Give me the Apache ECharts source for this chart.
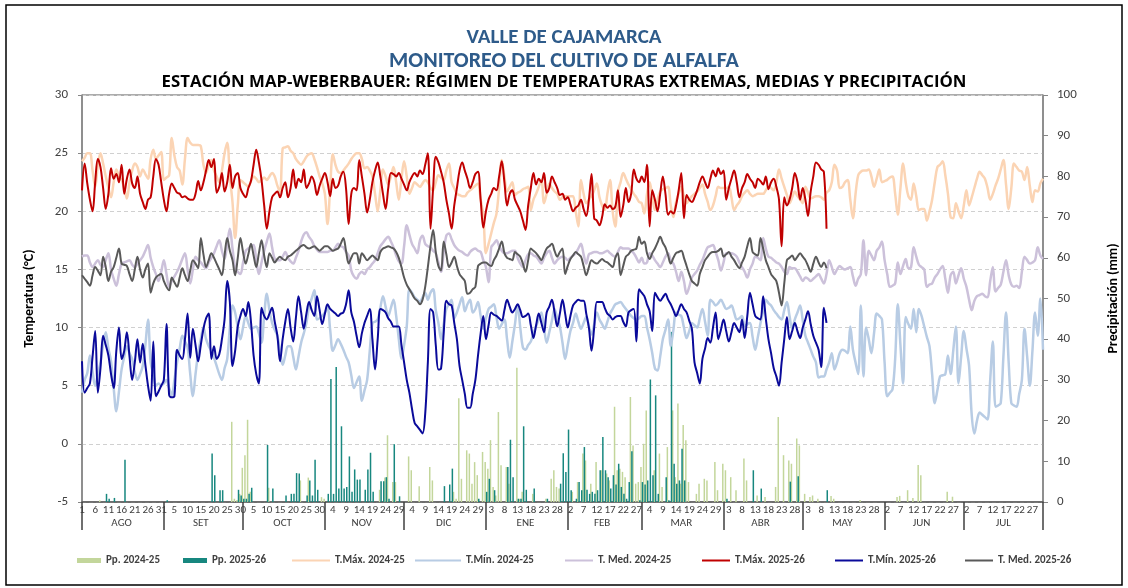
<!DOCTYPE html>
<html>
<head>
<meta charset="utf-8">
<title>Valle de Cajamarca - Alfalfa</title>
<script src="https://cdn.jsdelivr.net/npm/echarts@6/dist/echarts.min.js"></script>
<style>
  html, body { margin: 0; padding: 0; background: #fff; }
  #chart { width: 1128px; height: 588px; }
</style>
</head>
<body>
<div id="chart"></div>
<script>
// campaña agosto -> julio, un valor por día
const monthNames = ['AGO', 'SET', 'OCT', 'NOV', 'DIC', 'ENE', 'FEB', 'MAR', 'ABR', 'MAY', 'JUN', 'JUL']
const monthDays = [31, 30, 31, 30, 31, 31, 28, 31, 30, 31, 30, 31]

// T.Máx. 2024-25 (°C)
const tmax24 = [
  24.3,24.6,25.0,25.0,23.5,22.1,24.0,25.0,24.1,23.0,22.0,21.2,22.5,23.6,23.0,22.7,22.0,21.1,22.5,23.5,
  24.1,23.8,23.0,23.6,23.2,22.8,24.5,25.3,24.5,24.8,25.1,22.7,22.9,23.1,26.3,24.8,23.8,23.5,22.3,24.5,
  26.3,25.9,25.7,25.7,25.7,25.6,24.0,23.3,24.0,24.4,23.5,23.0,22.5,23.5,25.0,25.9,23.0,20.8,17.7,20.5,
  22.7,22.5,22.3,22.1,22.6,23.0,22.8,22.5,22.7,22.9,22.7,23.0,23.3,23.0,22.2,21.7,25.4,25.5,25.6,25.2,
  25.0,24.5,24.2,24.0,24.3,24.7,24.9,25.0,24.5,23.8,23.0,22.4,21.5,18.9,22.0,24.9,24.0,23.4,23.3,23.5,
  23.8,24.1,24.5,24.8,25.0,25.0,24.5,23.7,23.8,23.5,23.0,21.5,20.0,21.8,23.6,23.0,22.3,23.0,23.8,22.5,
  21.0,22.8,24.3,23.0,21.5,22.0,22.5,22.3,22.1,22.4,22.7,22.5,22.0,21.8,22.5,23.1,22.9,22.7,23.5,24.1,
  22.5,22.0,21.5,21.4,21.3,21.3,21.6,21.8,22.0,22.2,22.4,21.0,19.7,16.4,17.2,18.1,19.0,19.8,22.0,24.4,
  23.0,21.7,22.1,22.5,21.4,21.6,21.7,21.9,22.0,22.1,20.1,21.0,21.5,22.1,22.7,20.7,21.5,22.4,22.0,21.7,
  21.5,21.0,21.2,21.3,21.3,21.3,21.3,20.0,18.7,22.7,21.5,20.7,21.0,21.3,21.8,22.4,21.2,20.5,20.1,21.5,
  22.7,20.0,18.7,21.7,22.5,23.3,22.8,22.3,21.9,21.5,21.2,20.8,20.7,19.8,21.5,22.5,21.3,20.1,21.0,21.7,
  21.9,22.0,22.1,20.5,19.5,20.8,21.5,22.1,21.3,20.7,21.0,21.3,21.5,21.7,22.0,22.3,21.5,20.8,20.1,20.5,
  21.3,22.1,22.0,22.0,22.0,22.1,21.2,20.1,20.5,20.8,21.3,21.6,21.8,21.5,21.3,21.4,21.5,21.5,21.5,21.8,
  22.1,22.0,21.8,22.5,23.6,22.8,22.1,21.4,20.7,21.2,21.7,21.3,21.0,20.7,22.1,21.6,21.1,21.2,21.3,21.3,
  21.2,21.0,21.6,21.8,22.5,24.0,23.5,22.0,22.1,22.5,22.7,21.0,19.4,21.5,23.1,23.4,23.5,23.5,23.6,23.0,
  22.1,22.8,23.6,22.5,22.6,22.7,22.9,23.0,21.5,19.7,22.0,24.1,22.5,21.3,21.0,22.4,21.3,20.1,20.2,20.2,
  19.2,20.0,21.0,22.5,23.8,24.0,24.3,23.1,21.5,19.5,19.4,20.7,20.0,19.4,20.5,21.8,20.5,21.2,22.0,22.8,
  23.4,23.1,22.8,22.0,21.0,21.5,22.2,22.8,23.6,24.4,22.3,20.2,22.0,24.1,23.8,23.5,23.4,22.7,23.8,22.2,
  20.8,21.8,21.7,22.4,22.8
]

// T.Mín. 2024-25 (°C)
const tmin24 = [
  4.4,5.5,6.1,7.6,6.2,5.0,6.0,7.0,8.5,9.6,8.2,7.1,4.8,2.8,4.5,6.4,7.5,8.4,7.8,7.3,
  6.2,5.5,6.0,6.7,8.5,10.7,7.0,6.0,5.0,5.2,5.0,5.2,5.5,4.8,4.2,5.5,7.0,8.2,9.3,8.8,
  8.3,6.0,4.1,6.0,7.8,9.0,10.0,9.0,8.4,8.0,7.4,6.7,6.0,5.5,6.5,7.3,10.0,11.9,11.3,10.0,
  9.0,10.0,11.0,10.4,9.9,10.0,10.1,9.5,8.7,11.0,12.9,11.5,10.4,9.8,9.3,8.0,6.8,7.6,8.4,8.4,
  7.5,6.4,7.5,8.7,9.5,10.4,11.8,12.5,13.2,10.7,10.8,11.0,11.3,11.7,9.8,8.0,8.5,9.0,8.6,8.1,
  7.5,7.0,5.9,4.8,5.3,5.8,3.7,4.6,5.5,8.0,10.4,10.5,10.7,11.7,12.7,11.8,11.0,11.7,12.4,11.0,
  9.0,7.3,8.5,10.1,13.3,13.0,12.6,12.4,12.2,12.6,13.0,12.4,13.0,13.3,11.5,10.4,9.0,10.3,11.6,12.0,
  12.4,10.8,11.3,12.0,12.6,11.4,12.0,12.4,11.3,11.6,12.2,11.0,9.9,10.8,11.6,11.8,12.0,10.9,9.9,10.3,
  10.7,9.0,7.4,8.8,10.3,11.9,10.0,8.3,8.1,8.5,8.8,9.5,10.1,10.7,11.3,10.0,8.7,9.6,10.6,11.6,
  10.8,10.1,8.7,7.3,8.5,9.7,10.4,11.2,10.5,9.9,10.4,10.9,10.1,9.4,10.3,11.3,10.7,10.3,9.9,10.5,
  11.2,11.6,12.0,12.1,12.2,11.9,11.6,11.3,11.0,10.8,10.7,10.8,11.0,11.0,10.0,9.0,7.8,6.5,6.3,7.5,
  9.0,9.8,10.7,8.4,9.8,11.3,11.1,11.0,10.0,9.1,9.7,10.4,10.2,10.0,10.8,11.6,10.5,9.3,12.4,12.2,
  11.9,12.1,12.4,12.0,11.6,11.7,11.9,11.3,10.7,10.8,11.0,10.1,10.3,10.4,9.2,8.1,9.2,10.4,11.4,12.4,
  12.1,11.9,11.5,11.2,10.9,10.7,11.5,12.2,11.0,9.9,10.7,11.3,11.9,10.6,9.3,8.7,8.1,7.5,7.0,5.7,
  5.8,5.8,6.4,7.0,7.8,6.4,7.0,7.8,8.1,8.0,7.8,10.1,8.1,7.0,6.0,11.9,5.8,10.0,9.0,7.8,
  9.5,11.2,11.0,10.7,7.0,4.1,4.4,4.7,7.3,12.0,8.5,5.2,10.9,10.3,9.9,11.6,9.6,11.6,11.0,10.1,
  9.2,8.4,6.0,3.5,4.6,5.8,5.9,6.0,7.6,6.0,8.0,10.1,5.2,7.5,9.7,8.2,6.7,2.5,0.9,2.0,
  2.7,2.5,2.3,2.1,5.5,8.8,3.2,3.3,3.5,7.5,11.3,7.0,3.5,3.3,3.2,4.3,5.5,9.9,7.5,5.0,
  8.0,11.3,9.3,12.5,8.1
]

// T. Med. 2024-25 (°C)
const tmed24 = [
  16.1,16.2,16.2,15.6,15.2,15.5,15.8,15.4,15.2,15.8,16.4,15.0,14.2,13.6,14.6,15.5,15.6,15.7,15.8,15.4,
  15.2,15.5,15.8,16.1,16.6,17.1,16.0,15.2,14.6,14.0,14.8,15.8,14.6,13.5,14.0,14.4,14.8,15.3,15.9,16.4,
  15.0,13.8,15.0,16.1,15.8,15.6,15.3,15.1,15.6,16.0,16.4,17.0,17.5,16.6,15.9,17.2,18.5,16.8,15.2,14.8,
  14.6,15.6,16.6,16.8,17.0,17.1,15.8,14.6,15.6,16.6,17.4,18.1,16.9,15.9,15.8,15.8,16.1,16.5,16.0,15.7,
  15.5,16.0,16.6,17.4,18.0,18.2,17.8,17.5,17.0,16.7,16.5,16.5,16.5,16.5,16.6,16.6,16.9,17.2,17.0,16.9,
  16.5,16.2,14.9,14.4,14.2,14.6,14.8,14.6,15.0,15.2,15.5,15.8,16.4,17.0,17.3,17.6,17.8,17.4,16.9,16.2,
  15.7,15.5,17.0,18.8,18.0,17.2,16.8,16.4,17.5,17.9,17.2,17.0,16.9,16.6,16.4,15.6,14.8,16.5,17.9,18.1,
  17.6,17.1,16.8,16.6,16.5,16.3,16.2,16.5,16.7,16.8,16.6,16.5,15.8,15.2,13.9,16.9,17.2,17.5,17.0,16.6,
  16.4,16.4,16.5,16.6,16.6,16.0,15.5,15.2,15.8,16.3,16.4,16.2,16.1,15.8,15.5,16.0,16.4,16.6,16.0,15.5,
  15.8,16.0,16.1,16.0,15.8,16.0,16.2,16.4,16.8,17.2,16.3,15.5,16.3,16.4,16.5,16.5,16.4,16.4,16.5,16.6,
  16.4,16.2,16.1,16.5,16.9,16.8,16.8,16.8,16.6,16.4,16.0,15.6,16.0,15.5,15.6,16.4,16.2,15.8,15.5,15.2,
  15.6,16.1,16.4,15.8,15.5,14.8,14.0,14.8,14.0,12.9,13.5,14.3,14.6,14.9,15.4,15.8,16.4,16.9,17.0,17.1,
  16.5,15.8,14.9,15.6,16.4,16.4,16.4,16.3,16.1,15.6,15.2,14.8,14.3,15.0,15.5,16.1,16.0,15.8,17.7,16.8,
  16.1,16.0,15.8,15.6,15.5,15.2,14.8,14.6,15.2,15.1,15.1,14.8,14.4,14.0,14.3,14.2,14.0,14.2,14.4,14.6,
  14.2,13.8,14.6,15.8,15.2,14.6,15.0,15.3,15.1,15.0,15.1,15.2,14.4,13.6,14.2,14.6,17.5,14.5,16.6,16.2,
  15.8,16.6,16.9,17.4,15.8,14.6,13.5,13.6,13.8,15.6,14.6,15.3,15.9,15.1,15.2,16.9,16.1,15.4,15.2,15.0,
  13.5,13.7,13.8,14.3,14.6,15.0,15.3,14.2,13.0,14.5,14.8,13.8,14.5,15.1,14.2,13.5,12.4,11.5,12.3,12.7,
  12.8,12.9,12.7,12.6,14.0,15.2,13.1,13.4,13.7,14.8,15.8,14.5,13.7,13.5,13.6,13.4,14.8,16.1,15.8,15.5,
  15.6,15.8,16.9,16.2,15.9
]

// T.Máx. 2025-26 (°C), hasta mayo
const tmax25 = [
  21.8,24.1,22.4,21.0,20.0,22.5,24.5,23.8,22.0,20.2,21.5,23.7,22.8,23.2,22.5,24.0,21.5,22.8,23.6,22.4,
  22.0,23.0,21.5,20.8,20.2,21.0,21.2,23.0,24.5,24.0,22.5,21.0,20.0,21.5,22.4,22.0,21.6,21.5,21.2,21.3,
  21.1,21.0,21.0,21.5,22.6,21.8,22.5,23.5,24.4,23.8,24.5,21.6,22.1,23.3,21.7,22.5,24.0,22.0,23.0,23.3,
  22.0,21.5,21.2,22.0,22.6,24.0,25.3,24.2,22.7,20.5,18.5,20.0,21.2,21.5,21.7,21.2,22.0,22.5,21.2,22.0,
  23.6,22.0,22.8,22.5,23.6,22.0,22.4,23.0,22.5,21.4,22.2,22.8,23.3,22.5,21.3,22.8,22.0,22.2,23.0,23.4,
  22.0,18.9,21.5,22.0,21.8,24.4,23.0,21.5,19.9,21.0,22.5,23.5,24.2,23.0,21.5,20.2,22.0,23.3,23.2,23.0,
  23.3,22.8,22.3,21.8,22.5,23.0,23.3,23.0,23.5,23.2,24.0,25.0,18.5,22.0,24.7,24.2,23.4,22.5,21.0,19.8,
  18.5,20.5,22.0,23.5,24.2,23.5,22.8,22.0,22.5,23.2,23.4,21.0,18.6,20.0,21.0,21.5,22.0,21.8,23.0,24.3,
  22.5,20.5,21.5,21.8,21.0,20.5,20.0,19.2,18.4,20.5,22.0,23.3,22.3,22.8,22.5,23.3,21.6,22.0,23.0,22.5,
  22.0,21.4,21.5,21.0,21.2,20.6,20.0,20.3,20.5,21.0,20.2,19.6,21.0,23.2,19.4,19.2,18.8,19.5,20.6,20.3,
  20.5,20.2,20.4,21.8,19.5,20.5,22.0,20.8,21.5,23.6,22.8,22.5,23.0,22.5,24.0,18.7,21.8,21.0,20.0,21.5,
  23.0,21.5,19.7,20.0,19.8,20.5,21.8,23.3,19.4,21.4,21.0,20.8,21.2,21.8,22.5,23.0,22.5,22.0,22.8,23.5,
  23.0,23.7,23.2,23.5,21.0,22.0,22.8,23.5,22.5,21.2,22.0,22.5,23.2,22.8,22.5,22.0,22.8,22.6,22.3,23.0,
  21.9,22.5,22.8,22.1,21.0,17.0,21.2,20.5,21.0,22.0,23.3,22.5,21.0,22.0,21.0,19.6,21.7,23.0,24.2,24.0,
  23.6,23.4,18.5
]

// T.Mín. 2025-26 (°C)
const tmin25 = [
  7.1,4.4,4.8,5.2,7.5,9.7,4.4,6.5,9.3,8.5,7.6,6.0,4.8,8.0,10.0,7.3,8.0,9.6,7.5,5.5,
  7.0,9.0,7.0,8.6,6.8,5.0,3.7,8.8,4.1,4.5,5.0,5.5,10.3,4.2,4.0,4.1,8.1,7.6,7.3,9.0,
  11.2,7.4,9.9,8.5,7.1,8.5,9.9,10.8,11.2,7.3,8.4,7.3,7.7,9.0,10.7,14.0,12.2,6.7,8.0,10.1,
  11.0,11.6,11.0,12.2,10.5,7.6,6.0,5.2,11.7,11.0,10.7,11.2,11.7,10.5,9.3,7.1,9.0,10.5,11.6,10.0,
  8.8,10.8,12.7,11.3,9.9,11.2,12.2,11.5,11.0,12.7,11.5,10.3,11.2,12.0,11.6,11.4,11.2,11.0,11.2,11.3,
  12.0,13.2,11.3,10.5,9.3,8.3,9.5,10.4,11.0,11.6,9.0,6.4,9.0,11.6,11.5,11.3,10.8,10.5,10.1,10.1,
  10.1,8.5,7.0,5.5,4.4,3.0,1.8,1.5,1.2,0.9,2.6,7.0,11.6,11.3,8.5,6.4,6.5,9.5,12.3,12.0,
  11.9,10.4,9.0,6.7,5.5,4.3,3.1,3.1,4.3,5.5,7.6,9.5,11.0,9.0,10.2,11.3,11.1,11.0,10.8,10.6,
  11.5,12.4,11.8,11.3,11.6,12.0,11.5,10.9,11.0,11.2,10.2,9.1,10.2,11.2,10.4,9.6,11.3,11.8,12.4,11.3,
  10.1,11.2,12.4,11.2,10.0,11.0,11.9,12.2,12.4,12.3,12.3,11.2,10.0,8.0,10.0,12.2,12.2,12.2,11.7,11.2,
  11.0,10.7,10.9,11.0,11.0,10.5,10.1,11.3,11.5,11.6,8.8,13.3,13.0,12.7,12.0,11.4,9.7,13.0,12.6,12.3,
  12.6,12.9,12.4,12.0,11.5,11.0,11.5,12.0,11.6,11.3,10.6,9.9,7.0,6.1,5.2,7.3,8.2,9.1,8.7,10.0,
  11.3,9.0,9.8,10.7,9.7,8.8,9.6,10.4,10.0,9.6,10.7,9.1,11.0,13.0,12.0,11.0,10.8,10.7,12.7,10.8,
  9.0,7.8,6.5,5.8,5.0,7.0,9.0,10.9,9.0,9.7,10.4,9.7,9.1,10.0,10.7,11.4,10.3,9.3,8.7,8.1,
  6.6,11.7,10.4
]

// T. Med. 2025-26 (°C)
const tmed25 = [
  14.5,14.2,13.9,13.6,14.5,15.2,14.9,14.5,16.1,15.2,14.0,14.8,15.2,16.0,16.8,15.5,15.4,15.3,14.6,14.0,
  15.0,16.1,15.0,14.3,15.0,15.5,13.0,13.8,14.3,14.5,14.6,14.0,13.5,13.2,14.3,13.9,13.5,14.3,15.1,14.5,
  14.0,14.9,15.8,15.5,15.1,17.7,16.3,15.2,15.8,16.4,16.0,15.5,15.0,14.5,16.2,17.7,16.6,15.8,14.5,16.0,
  17.7,16.5,15.5,16.3,17.2,16.2,15.2,16.4,17.5,16.2,15.2,16.4,16.0,15.6,15.9,16.1,15.9,15.8,16.1,16.2,
  16.4,16.6,16.8,17.0,17.1,16.9,16.8,16.9,17.0,16.8,16.6,16.8,17.0,17.0,16.8,16.6,16.7,16.8,17.2,17.7,
  16.6,15.5,16.0,16.4,16.4,15.5,16.4,16.1,15.8,16.0,16.2,16.0,15.8,16.5,16.8,16.9,17.0,16.9,16.8,16.5,
  16.0,15.2,14.3,13.7,13.3,12.9,12.5,12.3,12.0,12.4,13.5,15.2,17.0,18.4,16.5,15.3,14.9,17.4,16.3,15.2,
  15.6,16.1,15.3,14.6,14.3,14.0,12.9,13.0,13.3,13.5,15.3,15.5,15.6,15.6,15.4,15.3,15.8,16.2,16.8,17.4,
  16.4,16.0,15.9,15.8,16.5,16.3,16.1,15.5,14.8,15.8,16.8,16.6,16.4,16.1,15.8,16.3,16.8,17.0,17.2,16.6,
  16.1,16.5,16.8,14.6,15.3,15.9,16.2,16.5,16.3,16.1,15.3,14.5,15.2,15.8,15.6,15.5,15.7,15.9,15.7,15.6,
  15.4,15.2,16.0,16.4,14.5,15.3,16.1,16.3,16.6,16.7,16.8,17.8,17.2,17.4,16.4,15.9,16.4,16.8,17.3,17.8,
  17.3,16.9,16.2,15.5,16.0,16.4,16.5,16.6,16.0,15.3,14.6,14.0,13.8,13.6,14.6,15.2,15.8,16.1,16.4,16.5,
  16.5,16.6,16.8,16.1,16.3,16.5,16.1,15.8,15.4,15.1,15.6,16.1,17.0,17.7,16.5,16.3,16.2,17.7,16.8,15.8,
  15.2,14.6,14.3,14.0,13.0,11.9,13.8,15.8,16.0,16.2,15.8,16.1,16.4,16.1,15.8,15.3,14.8,15.5,16.1,15.6,
  15.2,15.6,15.1
]

// Pp. 2024-25 (mm), una fila por mes
const pp24 = [
  0,0,0,0,0,0,0,0.4,0,0,0,0,0,0,0,0,0,0,0,0,0,0,0,0,0,0,0,0,0,0,0,
  0,0,0,0,0,0,0,0,0,0,0,0,0,0,0,0,0,0,0,0,0,0,0,0,0,0,19.7,0.8,0.5,2.0,
  8.4,11.5,20.2,2.5,0,0,0,0,0,0,3.5,0,0,0,0,0,0,0,0,0,0,0,5.3,0,0,6.0,0,0,0,0,1.2,
  0.8,0,0,0,0,0,0,0,0,0,0,0,0,0,0,0,0,0,0,0,0,3.0,0,6.0,16.4,0,4.9,4.9,0,0,
  0,0,11.2,7.8,0,0,3.9,0,0,0,8.6,5.3,0,0,0,0,0,0,0,2.5,0.8,25.5,5.7,0,12.7,11.9,4.5,9.8,6.6,0,12.3,
  9.8,8.2,15.2,3.7,1.6,22.1,9.0,0,8.6,4.5,0,0,33.0,0.8,2.5,0,0,0,2.0,0,0,0,0,0.8,0,5.7,7.8,3.7,3.3,0,0,
  0,0,2.5,0,4.9,0,11.9,10.2,0,4.5,0,9.8,0,7.8,0,7.0,5.3,0,23.4,7.8,8.2,7.4,6.1,0,25.8,13.9,4.5,4.9,
  8.6,14.3,22.5,0,0,7.8,0,11.9,3.7,0,13.5,0,22.5,6.1,24.2,4.5,18.9,15.2,4.9,0,0,2.0,4.5,0,5.7,5.3,0,0,9.8,2.9,0,
  9.4,7.8,0,6.1,0,2.9,0,0,10.7,5.3,0,0,0,1.6,0,0,1.2,0,0,0,3.7,20.9,0,11.5,0,10.2,9.4,0,15.6,13.9,
  0,2.0,0,1.2,1.6,0,0.8,0,0,0,0,1.5,0.8,0,0,0,0,0,0,0,0,0,0.5,0,0,0,0,0,0,0,0,
  0,0,0,0,0,1.2,1.5,0,0,2.9,0,1.0,0,9.1,6.6,0,0,0,0,0,0,0,0,0,2.5,0,1.3,0,0,0,
  0,0,0,0,0,0,0,0,0,0,0,0,0,0,0,0,0,0,0,0,0,0,0,0,0,0,0,0,0,0,0
]

// Pp. 2025-26 (mm)
const pp25 = [
  0,0,0,0,0,0,0,0,0,2.0,0.8,0,1.0,0,0,0,10.4,0,0,0,0,0,0,0,0,0,0,0,0,0,0,
  0,0.4,0,0,0,0,0,0,0,0,0,0,0,0,0,0,0,0,11.9,6.6,0,2.9,2.9,0,0,0,0,0,3.0,1.6,
  0.8,0.8,2.0,3.5,0,0,0,0,0,14.0,0,3.3,0,0,0,0,1.6,0,2.0,2.0,7.1,7.0,0,0,1.6,5.3,1.6,10.4,3.0,0,0,
  0,2.0,30.2,2.0,33.2,3.3,18.6,3.3,3.7,11.2,2.5,8.0,5.5,5.5,0,3.0,8.0,12.1,2.5,0,0,5.1,5.1,6.1,0.8,0,14.2,0,1.4,0,
  0,0,0,0,0,0,0,0,0,0,0,0,0,0,0,3.9,0,4.3,8.2,0,0,0,0,0,0,0,0,0,0.8,0,0,
  2.5,5.7,0,2.9,0,0,0,0,8.6,15.3,6.1,0,0.8,0.8,18.6,3.0,0,0,3.3,0,0,0,0,0.8,0,0,0,0,4.5,12.0,7.4,
  17.8,2.9,0,0.8,4.9,2.9,13.5,3.0,2.0,2.5,2.0,2.9,7.8,16.0,7.8,6.1,3.3,6.6,4.3,9.4,3.7,2.0,0.8,4.9,12.5,0,0,0.4,
  4.9,4.3,5.3,30.1,6.6,26.2,2.0,0,0,6.1,0.4,41.8,9.4,4.5,5.3,13.1,5.3,0,0,0,0,0,0,0,0,0,0,0,0,0,0,
  0,0.8,0,0,0,0,0,0,0,0,0,7.8,0,0,3.3,0,0,0,0,0,0,0,0,0,0,5.0,0,0,6.3,0,
  0,0,0,0,0,0,0,0,0,2.9
]

// etiquetas del eje: día del mes, mes centrado, separadores al inicio de cada mes
const dayLabels = []
const monthLabels = []
const monthStarts = new Set()
monthDays.forEach((n, m) => {
  monthStarts.add(dayLabels.length)
  for (let d = 1; d <= n; d++) {
    dayLabels.push(String(d))
    monthLabels.push(d === Math.ceil(n / 2) ? monthNames[m] : '')
  }
})
monthStarts.add(dayLabels.length - 1)

const font = 'Carlito, Lato, "Open Sans", sans-serif'

const legendNames = ['Pp. 2024-25', 'Pp. 2025-26', 'T.Máx. 2024-25', 'T.Mín. 2024-25',
  'T. Med. 2024-25', 'T.Máx. 2025-26', 'T.Mín. 2025-26', 'T. Med. 2025-26']
const legendLeft = [72, 178, 287, 410, 560, 697, 830, 960]
const legendLine = [24, 24, 38, 46, 28, 28, 28, 28]

const lineSeries = (name, data, color, width) => ({
  name,
  type: 'line',
  data,
  yAxisIndex: 0,
  smooth: 0.35,
  showSymbol: false,
  symbol: 'none',
  lineStyle: { color, width },
  itemStyle: { color },
  emphasis: { disabled: true }
})

const chart = echarts.init(document.getElementById('chart'))

chart.setOption({
  animation: false,
  backgroundColor: '#fff',
  textStyle: { fontFamily: font },
  title: [
    { text: 'VALLE DE CAJAMARCA', left: 'center', top: 22,
      textStyle: { fontFamily: font, fontSize: 21, fontWeight: 'bold', color: '#2e5b8a' } },
    { text: 'MONITOREO DEL CULTIVO DE ALFALFA', left: 'center', top: 45,
      textStyle: { fontFamily: font, fontSize: 22, fontWeight: 'bold', color: '#2e5b8a' } },
    { text: 'ESTACIÓN MAP-WEBERBAUER: RÉGIMEN DE TEMPERATURAS EXTREMAS, MEDIAS Y PRECIPITACIÓN',
      left: 'center', top: 69,
      textStyle: { fontFamily: '"Open Sans", sans-serif', fontSize: 16.8, fontWeight: 'bold', color: '#000' } }
  ],
  legend: legendNames.map((name, i) => ({
    data: [name],
    left: legendLeft[i],
    top: 550,
    icon: 'rect',
    itemWidth: legendLine[i],
    itemHeight: i < 2 ? 5 : 2,
    selectedMode: false,
    textStyle: { fontFamily: font, fontSize: 11, fontWeight: 'bold', color: '#404040' }
  })),
  graphic: [{
    type: 'rect',
    shape: { x: 6, y: 5, width: 1116, height: 580 },
    style: { fill: 'none', stroke: '#000', lineWidth: 1.5 },
    silent: true
  }],
  grid: {
    left: 82, right: 71, top: 95, bottom: 86,
    show: true, borderColor: '#595959', borderWidth: 1
  },
  xAxis: [{
    type: 'category',
    data: dayLabels,
    boundaryGap: false,
    axisLine: { onZero: false, lineStyle: { color: '#595959', width: 1.5 } },
    axisTick: {
      interval: (i) => monthStarts.has(i),
      length: 28,
      lineStyle: { color: '#404040', width: 1.5 }
    },
    axisLabel: { interval: 4, margin: 3, fontSize: 11, color: '#404040' },
    splitLine: { show: false }
  }, {
    type: 'category',
    data: monthLabels,
    position: 'bottom',
    offset: 10,
    boundaryGap: false,
    axisLine: { show: false, onZero: false },
    axisTick: { show: false },
    axisLabel: { interval: 0, margin: 6, fontSize: 11, color: '#404040' },
    splitLine: { show: false }
  }],
  yAxis: [{
    type: 'value',
    min: -5, max: 30, interval: 5,
    name: 'Temperatura (°C)',
    nameLocation: 'middle',
    nameGap: 46,
    nameTextStyle: { fontFamily: font, fontSize: 14, fontWeight: 'bold', color: '#000' },
    axisLine: { show: true, lineStyle: { color: '#868686', width: 1.5 } },
    axisTick: { show: true, length: 4, lineStyle: { color: '#868686' } },
    axisLabel: { margin: 14, fontSize: 13, color: '#404040' },
    splitLine: { lineStyle: { color: '#d0d0d0', type: [4, 3] } }
  }, {
    type: 'value',
    min: 0, max: 100, interval: 10,
    position: 'right',
    name: 'Precipitación (mm)',
    nameLocation: 'middle',
    nameGap: 63,
    nameRotate: 90,
    nameTextStyle: { fontFamily: font, fontSize: 14, fontWeight: 'bold', color: '#000' },
    axisLine: { show: true, lineStyle: { color: '#868686', width: 1.5 } },
    axisTick: { show: true, length: 5, lineStyle: { color: '#868686' } },
    axisLabel: { margin: 14, fontSize: 13, color: '#404040' },
    splitLine: { show: false }
  }],
  series: [
    { name: 'Pp. 2024-25', type: 'bar', yAxisIndex: 1, data: pp24,
      barWidth: 1.5, barGap: '0%', itemStyle: { color: '#c3d69b' }, emphasis: { disabled: true } },
    { name: 'Pp. 2025-26', type: 'bar', yAxisIndex: 1, data: pp25,
      barWidth: 1.5, itemStyle: { color: '#17877f' }, emphasis: { disabled: true } },
    lineSeries('T.Máx. 2024-25', tmax24, '#fbd4b4', 2.5),
    lineSeries('T.Mín. 2024-25', tmin24, '#b8cce4', 2.5),
    lineSeries('T. Med. 2024-25', tmed24, '#ccc1da', 2.5),
    lineSeries('T.Máx. 2025-26', tmax25, '#c00000', 2),
    lineSeries('T.Mín. 2025-26', tmin25, '#0a0a9a', 2),
    lineSeries('T. Med. 2025-26', tmed25, '#595959', 2)
  ]
})
</script>
</body>
</html>
